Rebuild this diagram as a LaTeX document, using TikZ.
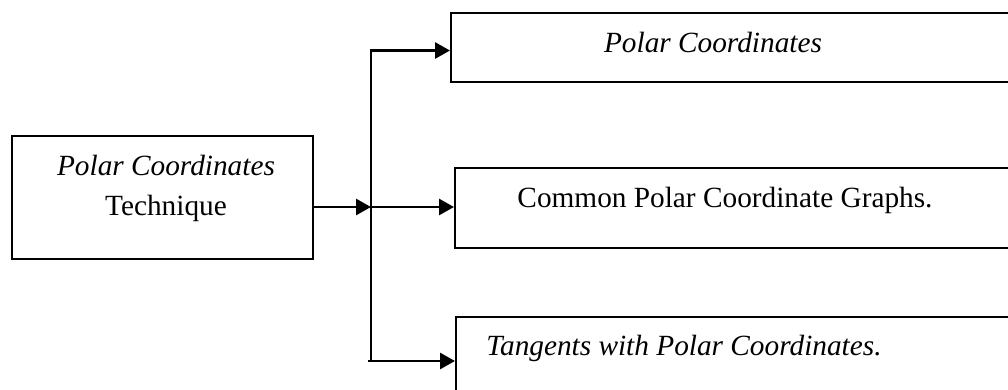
\documentclass[tikz,border=0pt]{standalone}
\usepackage{fontspec}
\setmainfont{Liberation Serif}
\usetikzlibrary{arrows.meta}
\tikzset{
  box/.style={draw=black,line width=1.9pt,rectangle,inner sep=0pt,anchor=north west},
  txt/.style={anchor=base,inner sep=0pt,font=\fontsize{29.3}{35}\selectfont},
  trunk/.style={draw=black,line width=2.8pt},
  link/.style={draw=black,line width=2.8pt,-{Triangle[length=15pt,width=16pt]}}
}

\begin{document}
\begin{tikzpicture}[x=1pt,y=-1pt]
  \useasboundingbox (0,0) rectangle (1008,389);
  % boxes
  \node[box,minimum width=301pt,minimum height=123pt] (tech) at (11,135) {};
  \node[box,minimum width=570pt,minimum height=69pt] (polar) at (450,12) {};
  \node[box,minimum width=570pt,minimum height=80pt] (graphs) at (454,167) {};
  \node[box,minimum width=570pt,minimum height=90pt] (tangents) at (455,316) {};

  % texts
  \node[txt] (techA) at (166,175) {\textit{Polar Coordinates}};
  \node[txt] (techB) at (166,215) {Technique};
  \node[txt] (polarT) at (713,52) {\textit{Polar Coordinates}};
  \node[txt] (graphsT) at (725,207) {Common Polar Coordinate Graphs.};
  \node[txt] (tangentsT) at (684,355) {\textit{Tangents with Polar Coordinates.}};

  % connectors
  \coordinate (top) at (371,50.5);
  \coordinate (mid) at (371,207);
  \coordinate (bot) at (371,361);
  \draw[trunk] (top) -- (bot);
  \draw[link] (tech.east |- mid) -- (mid);
  \draw[link] ([xshift=-1.4pt]top) -- (polar.west |- top);
  \draw[link] (mid) -- (graphs.west |- mid);
  \draw[link] ([xshift=-3pt]bot) -- (tangents.west |- bot);
\end{tikzpicture}
\end{document}
